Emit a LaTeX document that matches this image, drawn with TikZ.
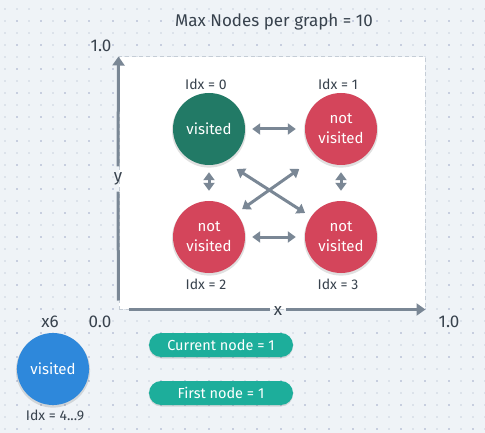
\documentclass[tikz,border=0pt]{standalone}
\usepackage{fontspec}
\setmainfont{Fira Sans}
\usetikzlibrary{shapes,arrows,arrows.meta,shadows}
\definecolor{bgcol}{HTML}{EFF3F7}
\definecolor{dotlight}{HTML}{DCE2EA}
\definecolor{dotdark}{HTML}{C7CEDF}
\definecolor{axiscol}{HTML}{7A8795}
\definecolor{framecol}{HTML}{C5CDD6}
\definecolor{txtcol}{HTML}{38424D}
\definecolor{visitcol}{HTML}{227A66}
\definecolor{notcol}{HTML}{D4455B}
\definecolor{bluecol}{HTML}{2E88DB}
\definecolor{pillcol}{HTML}{1DAE9B}
\tikzstyle{gnode}=[circle, minimum size=72pt, inner sep=0pt, text=white,
                   align=center, font=\fontsize{15}{20}\selectfont,
                   drop shadow={shadow xshift=0pt, shadow yshift=-1.5pt,
                   shadow scale=1.03, opacity=.12, fill=black}]
\tikzstyle{idx}=[text=txtcol, font=\fontsize{14}{16}\selectfont]
\tikzstyle{lbl}=[text=txtcol, font=\fontsize{17}{19}\selectfont]
\tikzstyle{pill}=[rectangle, rounded corners=12pt, fill=pillcol, text=white,
                  minimum width=144pt, minimum height=24pt, inner sep=0pt,
                  font=\fontsize{14.5}{17}\selectfont,
                  drop shadow={shadow xshift=0pt, shadow yshift=-1.5pt,
                  opacity=.12, fill=black}]
\tikzstyle{line}=[draw=axiscol, line width=3pt,
                  arrows={Triangle[length=8pt,width=11pt]-Triangle[length=8pt,width=11pt]}]
\tikzstyle{axis}=[draw=axiscol, line width=3pt]

\begin{document}
\begin{tikzpicture}[x=1pt, y=-1pt]
    \useasboundingbox (0,0) rectangle (485,433);
    \fill [bgcol] (0,0) rectangle (485,433);
    % dot grid
    \foreach \x in {5,17,...,485}
      \foreach \y in {9,21,...,433}
        \fill [dotlight] (\x-0.7,\y-0.7) rectangle +(1.4,1.4);
    \foreach \x in {17,41,...,485}
      \foreach \y in {21,45,...,433}
        \fill [dotdark] (\x-0.7,\y-0.7) rectangle +(1.4,1.4);
    \node [lbl] (title) at (274,22) {Max Nodes per graph = 10};
    \node [fill=white, draw=framecol, dashed, dash pattern=on 4pt off 3pt,
           line width=1pt, minimum width=306pt, minimum height=252pt,
           inner sep=0pt] (area) at (272,183) {};
    \node [lbl] (ytop)  at (101,46)  {1.0};
    \node [lbl] (orig)  at (100,322) {0.0};
    \node [lbl] (xend)  at (449,322) {1.0};
    \node [lbl, inner sep=0pt, minimum height=25pt] (ylab) at (118,179) {y};
    \node [lbl, inner sep=0pt, minimum width=15pt] (xlab) at (278,311) {x};
    \path [axis, shorten <=9pt] (area.south west) -- (ylab.south);
    \path [axis, -{Triangle[length=9pt,width=12pt]}] (ylab.north) -- (area.north west);
    \path [axis, shorten <=10pt] (area.south west) -- (xlab.west |- area.south west);
    \path [axis, -{Triangle[length=9pt,width=12pt]}] (xlab.east |- area.south west) -- (area.south east);
    \node [gnode, fill=visitcol] (n0) at (209,129) {visited};
    \node [gnode, fill=notcol]   (n1) at (341,129) {not\\visited};
    \node [gnode, fill=notcol]   (n2) at (209,237) {not\\visited};
    \node [gnode, fill=notcol]   (n3) at (341,237) {not\\visited};
    \node [idx] (i0) at (206,84)  {Idx = 0};
    \node [idx] (i1) at (338,84)  {Idx = 1};
    \node [idx] (i2) at (206,284) {Idx = 2};
    \node [idx] (i3) at (338,284) {Idx = 3};
    \path [line, shorten <=7pt, shorten >=9pt] (n0) -- (n1);
    \path [line, shorten <=7pt, shorten >=9pt] (n2) -- (n3);
    \path [line, shorten <=7pt, shorten >=10pt] (n0) -- (n2);
    \path [line, shorten <=7pt, shorten >=10pt] (n1) -- (n3);
    \path [line, shorten <=14pt, shorten >=7pt] (n0.-64) -- (n3.146);
    \path [line, shorten <=22pt, shorten >=7pt] (n1.229) -- (n2.41);
    % remaining nodes
    \node [gnode, fill=bluecol] (nrest) at (53,369) {visited};
    \node [lbl] (mult) at (50,322) {x6};
    \node [idx] (irest) at (55,415) {Idx = 4...9};
    \node [pill] (cur)   at (221,345) {Current node = 1};
    \node [pill] (first) at (221,393) {First node = 1};
\end{tikzpicture}
\end{document}
